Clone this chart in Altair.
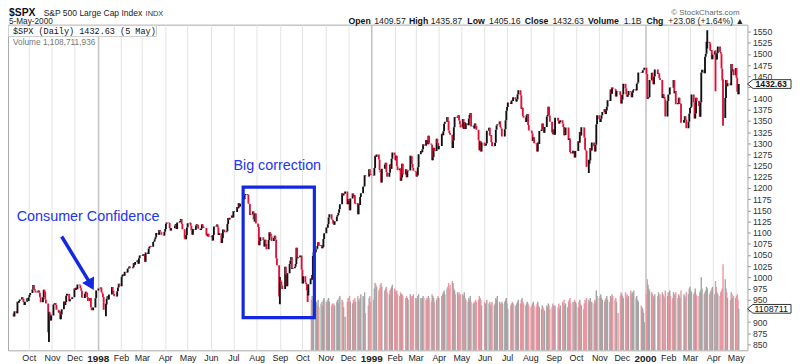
import altair as alt
import numpy as np
import pandas as pd

# ---------------- data (read/estimated from the picture) ----------------
closes = {
    "1997-09": [919.0, 912.6, 923.9, 919.8, 945.6, 943.0, 947.3, 950.5, 955.4, 951.9, 944.5, 937.9, 945.2, 953.3, 947.3],
    "1997-10": [955.4, 960.5, 965.0, 972.7, 983.1, 973.8, 970.6, 966.1, 968.1, 970.3, 965.7, 955.3, 944.2, 955.6, 972.3, 968.5, 950.7, 941.6, 877.0, 921.9, 919.2, 903.7, 914.6],
    "1997-11": [939.0, 940.8, 942.8, 938.0, 927.5, 921.1, 923.8, 906.0, 916.7, 928.4, 946.2, 938.2, 944.6, 959.0, 963.1, 946.7, 950.8, 951.6, 955.4],
    "1997-12": [974.8, 971.7, 976.8, 973.1, 983.8, 982.4, 975.8, 969.8, 954.9, 954.0, 963.4, 968.0, 965.5, 955.3, 946.8, 953.7, 932.7, 926.6, 932.7, 953.4, 970.8, 970.4],
    "1998-01": [975.0, 977.1, 966.6, 964.0, 956.1, 927.7, 939.2, 952.1, 957.9, 950.7, 961.5, 978.6, 970.8, 963.0, 957.6, 957.0, 969.0, 977.5, 985.5, 980.3],
    "1998-02": [1001.3, 1006.0, 1006.9, 1003.5, 1012.5, 1010.7, 1019.0, 1020.1, 1024.1, 1020.1, 1022.8, 1032.1, 1028.3, 1034.2, 1038.1, 1030.6, 1042.9, 1048.7, 1049.3],
    "1998-03": [1047.7, 1052.0, 1047.7, 1035.1, 1055.7, 1052.3, 1064.3, 1068.6, 1069.9, 1068.6, 1079.3, 1080.5, 1085.5, 1089.7, 1099.2, 1095.6, 1105.7, 1101.9, 1100.8, 1095.4, 1093.6, 1101.8],
    "1998-04": [1108.2, 1120.0, 1122.7, 1121.4, 1110.7, 1104.9, 1110.0, 1109.6, 1115.8, 1119.3, 1108.2, 1122.7, 1123.7, 1126.7, 1130.5, 1119.6, 1107.9, 1086.5, 1085.1, 1094.6, 1111.8],
    "1998-05": [1121.0, 1122.1, 1115.5, 1104.9, 1095.1, 1108.1, 1106.6, 1115.8, 1118.9, 1117.4, 1108.7, 1105.8, 1109.5, 1119.1, 1114.6, 1110.5, 1094.0, 1092.2, 1097.6, 1090.8],
    "1998-06": [1090.8, 1093.2, 1082.7, 1094.8, 1113.9, 1115.7, 1118.4, 1112.3, 1094.6, 1098.8, 1077.0, 1087.6, 1107.1, 1106.4, 1100.7, 1103.2, 1119.5, 1132.9, 1129.3, 1133.2, 1138.5, 1133.8],
    "1998-07": [1148.6, 1146.4, 1157.3, 1154.7, 1166.4, 1158.6, 1164.3, 1165.2, 1177.6, 1174.8, 1184.0, 1186.8, 1184.1, 1165.1, 1164.1, 1139.8, 1140.8, 1147.3, 1130.2, 1125.2, 1143.0, 1120.7],
    "1998-08": [1112.4, 1072.1, 1081.4, 1089.6, 1089.5, 1083.1, 1069.0, 1084.2, 1074.9, 1062.8, 1083.7, 1101.2, 1098.1, 1091.6, 1081.2, 1088.1, 1092.9, 1084.2, 1042.6, 1027.1, 957.3],
    "1998-09": [994.3, 990.5, 982.3, 973.9, 1023.5, 1006.2, 980.2, 1009.1, 1029.7, 1037.7, 1045.5, 1018.9, 1020.1, 1023.9, 1029.6, 1066.1, 1042.7, 1044.8, 1048.7, 1049.0, 1017.0],
    "1998-10": [986.4, 1002.6, 988.6, 984.6, 970.7, 959.4, 984.4, 997.7, 994.8, 1005.5, 1047.5, 1056.4, 1062.4, 1063.9, 1069.9, 1078.5, 1070.7, 1072.3, 1065.3, 1068.1, 1085.9, 1098.7],
    "1998-11": [1111.6, 1110.8, 1118.7, 1133.9, 1141.0, 1130.2, 1128.3, 1120.0, 1117.7, 1125.7, 1135.9, 1139.3, 1144.5, 1152.6, 1163.6, 1188.2, 1183.0, 1186.9, 1192.3, 1163.6],
    "1998-12": [1175.3, 1171.3, 1150.1, 1176.7, 1187.7, 1181.4, 1183.5, 1165.0, 1166.5, 1141.2, 1162.8, 1161.9, 1180.0, 1188.0, 1202.8, 1203.6, 1228.5, 1226.3, 1225.5, 1241.8, 1231.9, 1229.2],
    "1999-01": [1228.1, 1244.8, 1272.3, 1269.7, 1275.1, 1263.9, 1239.5, 1234.4, 1212.2, 1243.3, 1252.3, 1256.6, 1235.2, 1225.2, 1234.0, 1252.3, 1243.2, 1265.4, 1279.6],
    "1999-02": [1273.0, 1262.0, 1272.1, 1248.5, 1239.4, 1243.8, 1216.1, 1223.6, 1254.0, 1230.1, 1241.9, 1224.0, 1237.3, 1239.2, 1272.1, 1271.2, 1253.4, 1245.0, 1238.3],
    "1999-03": [1236.2, 1225.5, 1227.7, 1246.6, 1275.5, 1282.7, 1279.8, 1286.8, 1297.7, 1294.6, 1307.3, 1306.4, 1297.8, 1316.6, 1299.3, 1297.0, 1262.1, 1268.6, 1290.0, 1282.8, 1310.2, 1300.8, 1286.4],
    "1999-04": [1293.7, 1321.1, 1317.9, 1326.9, 1344.0, 1348.4, 1358.6, 1350.5, 1328.4, 1322.9, 1319.0, 1289.5, 1306.2, 1336.1, 1358.8, 1356.9, 1360.0, 1362.8, 1350.9, 1342.8, 1335.2],
    "1999-05": [1354.6, 1332.0, 1347.3, 1332.1, 1345.0, 1340.3, 1355.6, 1364.0, 1367.6, 1337.8, 1339.5, 1333.3, 1344.2, 1338.8, 1330.3, 1306.7, 1284.4, 1304.8, 1281.4, 1301.8],
    "1999-06": [1294.3, 1294.8, 1299.5, 1327.8, 1334.5, 1317.3, 1318.6, 1302.8, 1293.6, 1294.0, 1301.2, 1330.4, 1339.9, 1342.8, 1349.0, 1335.9, 1333.1, 1315.3, 1315.3, 1331.4, 1351.5, 1372.7],
    "1999-07": [1381.0, 1391.2, 1388.1, 1395.9, 1394.4, 1403.3, 1399.1, 1393.6, 1398.2, 1409.6, 1418.8, 1407.7, 1377.1, 1379.3, 1361.0, 1356.9, 1347.8, 1362.8, 1365.4, 1341.0, 1328.7],
    "1999-08": [1328.1, 1322.2, 1305.3, 1313.7, 1300.3, 1297.8, 1281.4, 1301.9, 1298.2, 1327.7, 1330.8, 1344.2, 1332.8, 1323.6, 1336.6, 1360.2, 1363.5, 1381.8, 1362.0, 1348.3, 1324.0, 1320.4],
    "1999-09": [1331.1, 1319.1, 1357.2, 1350.5, 1344.2, 1347.7, 1351.7, 1344.1, 1336.3, 1318.0, 1318.5, 1335.4, 1335.5, 1307.6, 1310.5, 1280.4, 1277.4, 1283.3, 1282.2, 1268.4, 1282.7],
    "1999-10": [1282.8, 1304.6, 1301.4, 1325.4, 1317.6, 1336.0, 1335.2, 1313.0, 1285.6, 1283.4, 1247.4, 1254.1, 1261.3, 1289.4, 1283.6, 1301.7, 1293.6, 1281.9, 1296.7, 1342.4, 1362.9],
    "1999-11": [1354.1, 1347.7, 1354.9, 1362.6, 1370.2, 1377.0, 1365.3, 1373.5, 1381.5, 1396.1, 1394.4, 1420.1, 1410.7, 1424.9, 1422.0, 1420.9, 1404.6, 1417.1, 1416.6, 1407.8, 1388.9],
    "1999-12": [1397.7, 1409.0, 1433.3, 1423.3, 1409.2, 1403.9, 1408.1, 1417.0, 1415.2, 1403.2, 1413.3, 1418.8, 1421.0, 1418.1, 1433.4, 1436.1, 1458.3, 1457.1, 1457.7, 1463.5, 1464.5, 1469.3],
    "2000-01": [1455.2, 1399.4, 1402.1, 1403.5, 1441.5, 1457.6, 1438.6, 1432.3, 1449.7, 1465.2, 1455.1, 1455.9, 1445.6, 1441.4, 1401.5, 1410.0, 1404.1, 1398.6, 1360.2, 1394.5],
    "2000-02": [1409.3, 1409.1, 1425.0, 1424.4, 1424.2, 1441.7, 1411.7, 1416.8, 1387.1, 1389.9, 1402.1, 1387.7, 1388.3, 1346.1, 1352.2, 1360.7, 1353.4, 1333.4, 1348.1, 1366.4],
    "2000-03": [1379.2, 1381.8, 1409.2, 1391.3, 1355.6, 1366.7, 1401.7, 1395.1, 1383.6, 1359.2, 1392.1, 1458.5, 1464.5, 1456.6, 1493.9, 1500.6, 1527.4, 1527.5, 1523.9, 1507.7, 1508.5, 1487.9, 1498.6],
    "2000-04": [1506.0, 1494.7, 1487.4, 1501.3, 1516.4, 1504.5, 1500.6, 1467.2, 1440.5, 1356.6, 1401.4, 1441.6, 1427.5, 1434.5, 1429.9, 1477.4, 1461.0, 1464.9, 1452.4],
    "2000-05": [1468.3, 1446.3, 1415.1, 1409.6, 1432.6],
}

# volume (millions, chart units) -- only shown from mid-October 1998
volumes = {
    "1998-10": [1350, 1450, 1300, 1400, 1250, 1300, 1200, 1350, 1150, 1250, 1300, 1200, 1350, 1400],
    "1998-11": [1300, 1250, 1350, 1400, 1300, 1200, 1250, 1150, 1250, 1200, 1300, 1350, 1250, 1400, 1450, 1350, 1300, 1150, 900, 1300],
    "1998-12": [1400, 1350, 1450, 1300, 1250, 1350, 1300, 1400, 1300, 1450, 1350, 1300, 1400, 1500, 1450, 1400, 1550, 1000, 1200, 1400, 1450, 1300],
    "1999-01": [1350, 1650, 1800, 1750, 1700, 1600, 1650, 1750, 1800, 1700, 1600, 1650, 1700, 1550, 1500, 1600, 1650, 1700, 1750],
    "1999-02": [1650, 1600, 1550, 1600, 1500, 1450, 1550, 1500, 1500, 1450, 1400, 1450, 1400, 1350, 1500, 1450, 1400, 1450, 1500],
    "1999-03": [1400, 1350, 1400, 1450, 1500, 1400, 1350, 1400, 1450, 1400, 1350, 1400, 1350, 1450, 1400, 1300, 1500, 1450, 1400, 1300, 1350, 1400, 1450],
    "1999-04": [1400, 1450, 1500, 1550, 1600, 1500, 1650, 1700, 1800, 1650, 1750, 1850, 1800, 1650, 1600, 1500, 1550, 1500, 1550, 1450, 1500],
    "1999-05": [1500, 1450, 1550, 1400, 1350, 1300, 1400, 1350, 1450, 1300, 1250, 1300, 1250, 1350, 1300, 1350, 1450, 1400, 1350, 1200],
    "1999-06": [1300, 1250, 1200, 1350, 1250, 1300, 1200, 1250, 1300, 1200, 1250, 1400, 1350, 1450, 1300, 1250, 1200, 1300, 1250, 1300, 1350, 1400],
    "1999-07": [1250, 1100, 1200, 1250, 1300, 1250, 1200, 1150, 1250, 1300, 1350, 1250, 1350, 1400, 1300, 1250, 1200, 1250, 1300, 1250, 1200],
    "1999-08": [1150, 1200, 1250, 1300, 1200, 1150, 1250, 1300, 1200, 1150, 1100, 1200, 1150, 1100, 1050, 1200, 1150, 1250, 1200, 1100, 1150, 1250],
    "1999-09": [1200, 1150, 1200, 1150, 1250, 1100, 1200, 1300, 1250, 1350, 1200, 1250, 1150, 1300, 1350, 1400, 1250, 1300, 1200, 1350, 1300],
    "1999-10": [1250, 1150, 1300, 1350, 1250, 1200, 1100, 1250, 1350, 1300, 1400, 1350, 1300, 1400, 1250, 1300, 1250, 1350, 1300, 1600, 1450],
    "1999-11": [1400, 1450, 1500, 1400, 1350, 1300, 1350, 1400, 1450, 1350, 1300, 1450, 1400, 1500, 1450, 1350, 1400, 1300, 1000, 1450, 1550],
    "1999-12": [1500, 1450, 1400, 1550, 1450, 1500, 1400, 1450, 1600, 1500, 1550, 1450, 1600, 1400, 1450, 1350, 1300, 1200, 1150, 1100, 1000, 750],
    "2000-01": [1500, 1900, 1750, 1650, 1600, 1550, 1500, 1450, 1400, 1500, 1450, 1550, 1400, 1500, 1550, 1500, 1450, 1400, 1600, 1450],
    "2000-02": [1550, 1500, 1600, 1450, 1400, 1550, 1500, 1450, 1550, 1400, 1500, 1450, 1400, 1600, 1500, 1450, 1400, 1550, 1500, 1650],
    "2000-03": [1700, 1600, 1550, 1500, 1550, 1650, 1500, 1450, 1450, 1550, 1600, 1950, 1650, 1500, 1550, 1600, 1700, 1650, 1500, 1550, 1600, 1650, 1700],
    "2000-04": [1500, 1850, 1700, 1550, 1500, 1450, 1550, 1600, 1650, 2300, 1900, 1650, 1550, 1400, 1350, 1550, 1500, 1400, 1450],
    "2000-05": [1400, 1450, 1500, 1350, 1108.7],
}

holidays = ["1997-11-27", "1997-12-25", "1998-01-01", "1998-01-19", "1998-02-16", "1998-04-10",
            "1998-05-25", "1998-07-03", "1998-09-07", "1998-11-26", "1998-12-25", "1999-01-01",
            "1999-01-18", "1999-02-15", "1999-04-02", "1999-05-31", "1999-07-05", "1999-09-06",
            "1999-11-25", "1999-12-24", "2000-01-17", "2000-02-21", "2000-04-21"]

# notable intraday extremes
ext_dates = ["1997-10-28", "1998-01-12", "1998-09-01", "1998-10-08", "1999-10-18", "2000-03-24", "2000-04-04", "2000-04-14"]
ext_low = [855.3, 912.8, 940.0, 945.0, 1233.7, 1512.0, 1416.3, 1339.4]
ext_high = [923.1, 941.0, 1000.7, 970.7, 1263.0, 1552.9, 1508.0, 1443.5]

# ---------------- build table ----------------
hol = set(pd.to_datetime(holidays))
rows = []
for m, vals in closes.items():
    start = pd.Timestamp(m + "-01")
    end = start + pd.offsets.MonthEnd(0)
    if m == "1997-09":
        start = pd.Timestamp("1997-09-10")
    if m == "2000-05":
        end = pd.Timestamp("2000-05-05")
    days = [d for d in pd.bdate_range(start, end) if d not in hol]
    if len(days) != len(vals):
        idx = np.round(np.linspace(0, len(days) - 1, len(vals))).astype(int)
        days = [days[i] for i in idx]
    vol = list(volumes.get(m, []))[-len(vals):]
    vol = [np.nan] * (len(vals) - len(vol)) + vol
    for d, c, v in zip(days, vals, vol):
        rows.append((d, c, v))

df = pd.DataFrame(rows, columns=["date", "close", "volume"])
df["prev"] = df["close"].shift(1).fillna(df["close"])
df["lo"] = df[["prev", "close"]].min(axis=1)
df["hi"] = df[["prev", "close"]].max(axis=1)
df["dir"] = np.where(df["close"] >= df["prev"], "up", "down")
for d, lo, hi in zip(ext_dates, ext_low, ext_high):
    mask = df["date"] == pd.Timestamp(d)
    df.loc[mask, "lo"] = np.minimum(df.loc[mask, "lo"], lo)
    df.loc[mask, "hi"] = np.maximum(df.loc[mask, "hi"], hi)

pdf = df[["date", "lo", "hi", "dir"]].copy()
vdf = df.loc[df["volume"].notna(), ["date", "volume", "dir"]].copy()

# ---------------- styling ----------------
FONT = "Liberation Sans"
BLUE_T = "#2236f0"
BLUE_L = "#1428e0"
W, H = 747, 329

xscale = alt.Scale(domain=[alt.DateTime(year=1997, month=9, date=10),
                           alt.DateTime(year=2000, month=5, date=10)])
yscale = alt.Scale(domain=[836.7, 1565.5], nice=False, zero=False)
vscale = alt.Scale(domain=[0, 8700], nice=False)

month_starts = pd.date_range("1997-10-01", "2000-05-01", freq="MS")
is_jan = "month(datum.value) == 0"
xaxis = alt.Axis(
    title=None,
    values=[alt.DateTime(year=d.year, month=d.month, date=1) for d in month_starts],
    labelExpr="month(datum.value) == 0 ? timeFormat(datum.value, '%Y') : timeFormat(datum.value, '%b')",
    labelFontWeight={"condition": {"test": is_jan, "value": "bold"}, "value": "normal"},
    labelFontSize={"condition": {"test": is_jan, "value": 10}, "value": 9},
    labelFont=FONT, labelColor="#222", labelAlign="center", labelPadding=3,
    labelFlush=False, labelOverlap=False, ticks=False, domain=False,
    gridColor={"condition": {"test": is_jan, "value": "#c4c4c4"}, "value": "#e3e3e3"},
    gridWidth={"condition": {"test": is_jan, "value": 1.6}, "value": 1},
)
yaxis = alt.Axis(
    title=None, orient="right", values=list(range(850, 1551, 25)),
    labelExpr="(datum.value == 1425 || datum.value == 925) ? '' : format(datum.value, 'd')",
    labelFont=FONT, labelFontSize=8.8, labelColor="#333", labelPadding=2,
    tickSize=3, tickColor="#999", domain=False, gridColor="#e3e3e3",
    labelOverlap=False, labelFlush=False,
)

one = pd.DataFrame({"a": [0]})


def txt(s, x, y, size=8.8, weight="normal", color="#222", align="left", font=FONT, baseline="alphabetic"):
    return alt.Chart(one).mark_text(
        text=s, fontSize=size, fontWeight=weight, color=color, align=align,
        baseline=baseline, font=font
    ).encode(x=alt.value(x), y=alt.value(y))


# ---------------- volume ----------------
vol = alt.Chart(vdf).mark_bar(size=1.4, clip=True).encode(
    x=alt.X("date:T", scale=xscale, axis=xaxis),
    y=alt.Y("volume:Q", scale=vscale, axis=None),
    color=alt.Color("dir:N", scale=alt.Scale(domain=["up", "down"], range=["#a4a4a4", "#eb96a1"]), legend=None),
)
TAG = "M-1,0L-0.75,-0.2L1,-0.2L1,0.2L-0.75,0.2Z"
vtag_df = pd.DataFrame({"v": [1108.7], "t": ["1108711"]})
vtag = alt.Chart(vtag_df).mark_point(shape=TAG, size=1936, filled=True, fill="white",
                                     stroke="#333", strokeWidth=1, opacity=1).encode(
    x=alt.value(769), y=alt.Y("v:Q", scale=vscale, axis=None))
vtag_t = alt.Chart(vtag_df).mark_text(fontSize=9, font=FONT, color="#111", align="center", baseline="middle").encode(
    x=alt.value(771), y=alt.Y("v:Q", scale=vscale, axis=None), text="t:N")
vol_group = alt.layer(vol, vtag, vtag_t)

# ---------------- price ----------------
price = alt.Chart(pdf).mark_rule(strokeWidth=1.9, clip=True).encode(
    x=alt.X("date:T", scale=xscale, axis=xaxis),
    y=alt.Y("lo:Q", scale=yscale, axis=yaxis),
    y2="hi:Q",
    color=alt.Color("dir:N", scale=alt.Scale(domain=["up", "down"], range=["#111111", "#dc143c"]), legend=None),
)

box_df = pd.DataFrame({"d1": [pd.Timestamp("1998-07-14")], "d2": [pd.Timestamp("1998-10-17")],
                       "p1": [910.0], "p2": [1202.0]})
box = alt.Chart(box_df).mark_rect(fillOpacity=0, stroke=BLUE_L, strokeWidth=3.2).encode(
    x=alt.X("d1:T", scale=xscale, axis=xaxis), x2="d2:T",
    y=alt.Y("p1:Q", scale=yscale, axis=yaxis), y2="p2:Q")

ann_df = pd.DataFrame({
    "d": [pd.Timestamp("1998-07-01"), pd.Timestamp("1997-09-15")],
    "p": [1249.0, 1136.0],
    "t": ["Big correction", "Consumer Confidence"],
})
ann = alt.Chart(ann_df).mark_text(fontSize=14.5, font=FONT, color=BLUE_T, align="left", baseline="middle").encode(
    x=alt.X("d:T", scale=xscale, axis=xaxis), y=alt.Y("p:Q", scale=yscale, axis=yaxis), text="t:N")

arrow_df = pd.DataFrame({"d1": [pd.Timestamp("1997-11-14")], "d2": [pd.Timestamp("1997-12-20")],
                         "p1": [1091.4], "p2": [992.0]})
arrow = alt.Chart(arrow_df).mark_rule(color=BLUE_L, strokeWidth=3.5).encode(
    x=alt.X("d1:T", scale=xscale, axis=xaxis), x2="d2:T",
    y=alt.Y("p1:Q", scale=yscale, axis=yaxis), y2="p2:Q")
head_df = pd.DataFrame({"d": [pd.Timestamp("1997-12-23")], "p": [983.0]})
head = alt.Chart(head_df).mark_point(shape="triangle-up", size=190, filled=True, color=BLUE_L,
                                     opacity=1, angle=151).encode(
    x=alt.X("d:T", scale=xscale, axis=xaxis), y=alt.Y("p:Q", scale=yscale, axis=yaxis))

ptag_df = pd.DataFrame({"p": [1432.63], "t": ["1432.63"]})
ptag = alt.Chart(ptag_df).mark_point(shape=TAG, size=1936, filled=True, fill="white",
                                     stroke="#333", strokeWidth=1, opacity=1).encode(
    x=alt.value(769), y=alt.Y("p:Q", scale=yscale, axis=yaxis))
ptag_t = alt.Chart(ptag_df).mark_text(fontSize=8.8, fontWeight="bold", font=FONT, color="#111",
                                      align="center", baseline="middle").encode(
    x=alt.value(771), y=alt.Y("p:Q", scale=yscale, axis=yaxis), text="t:N")

legend_box = alt.Chart(one).mark_rect(fill="white", stroke="#cfcfcf", strokeWidth=1).encode(
    x=alt.value(0.5), x2=alt.value(150), y=alt.value(1), y2=alt.value(12))

texts = [
    txt("$SPX", 1, -8.5, size=10.5, weight="bold", color="#111"),
    txt("S&P 500 Large Cap Index", 36, -8.5, size=8.6, color="#222"),
    txt("INDX", 139, -8.5, size=7.5, color="#333"),
    txt("© StockCharts.com", 739, -10, size=8, color="#666", align="right"),
    txt("5-May-2000", 1, -0.5, size=8.3, color="#222"),
    txt("Open", 344, -0.5, weight="bold", color="#111"),
    txt("1409.57", 370, -0.5, color="#222"),
    txt("High", 405, -0.5, weight="bold", color="#111"),
    txt("1435.87", 427, -0.5, color="#222"),
    txt("Low", 464, -0.5, weight="bold", color="#111"),
    txt("1405.16", 486, -0.5, color="#222"),
    txt("Close", 522, -0.5, weight="bold", color="#111"),
    txt("1432.63", 550, -0.5, color="#222"),
    txt("Volume", 586, -0.5, weight="bold", color="#111"),
    txt("1.1B", 622, -0.5, color="#222"),
    txt("Chg", 645, -0.5, weight="bold", color="#111"),
    txt("+23.08 (+1.64%) \u25b2", 667, -0.5, color="#222"),
    txt("$SPX (Daily) 1432.63 (5 May)", 5, 9.5, size=8.6, color="#111", font="Liberation Mono"),
    txt("Volume 1,108,711,936", 5, 20.5, size=8.4, color="#777"),
]

main = alt.layer(price, box, arrow, head, ann, ptag, ptag_t, legend_box, *texts)

chart = alt.layer(vol_group, main).resolve_scale(y="independent", color="independent").properties(
    width=W, height=H,
    padding={"left": 0, "top": 15, "right": 45, "bottom": 12},
    autosize=alt.AutoSizeParams(type="none"),
).configure(font=FONT, background="white").configure_view(stroke="#a8a8a8", strokeWidth=1)

chart.save("out.html", embed_options={"renderer": "svg", "actions": False})
